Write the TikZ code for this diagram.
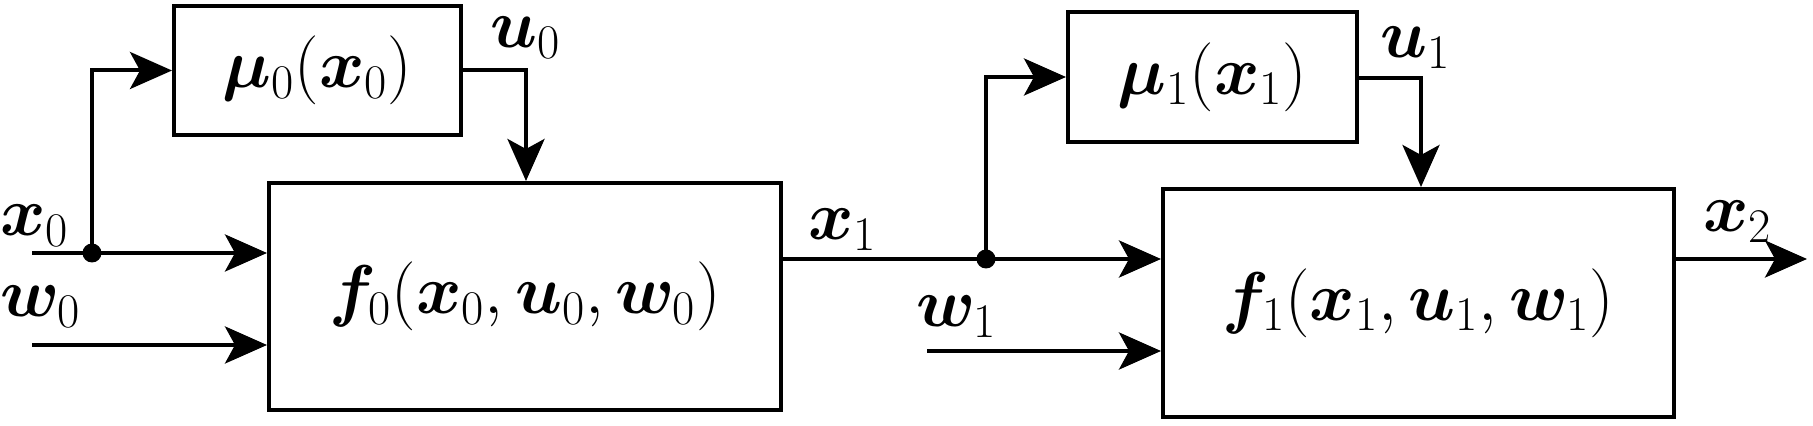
\documentclass[tikz,border=0pt]{standalone}
\usepackage{fix-cm}
\usepackage{amsmath,bm}
\usetikzlibrary{arrows.meta}
\begin{document}
\begin{tikzpicture}[x=0.5pt,y=-0.5pt,
  blk/.style={draw,line width=2pt,inner sep=0pt,font=\fontsize{34.5}{40}\selectfont},
  lbl/.style={inner sep=0pt,font=\fontsize{34.5}{40}\selectfont},
  wire/.style={line width=2pt},
  arr/.style={wire,-{Stealth[length=21pt,width=18.5pt,inset=5pt]}},
  junc/.style={circle,fill,inner sep=0pt,minimum size=9.5pt}]
\useasboundingbox (0,0) rectangle (1813,426);
% blocks
\node[blk,minimum width=143.5pt,minimum height=64.5pt] (mu0) at (317.5,70.5) {$\bm{\mu}_0(\bm{x}_0)$};
\node[blk,minimum width=256pt,minimum height=113.5pt] (f0) at (525,296.5) {$\bm{f}_0(\bm{x}_0,\bm{u}_0,\bm{w}_0)$};
\node[blk,minimum width=144.5pt,minimum height=65pt] (mu1) at (1212.5,77) {$\bm{\mu}_1(\bm{x}_1)$};
\node[blk,minimum width=255.5pt,minimum height=114pt] (f1) at (1418.5,303) {$\bm{f}_1(\bm{x}_1,\bm{u}_1,\bm{w}_1)$};
% coordinates
\coordinate (x0in) at (32,253);
\coordinate (w0in) at (32,345);
\coordinate (w1in) at (927,351);
\coordinate (x2out) at (1807,259);
\coordinate (u0c) at (526,70.5);
\coordinate (u1c) at (1421,78);
\node[junc] (d0) at (92,253) {};
\node[junc] (d1) at (986,259) {};
% labels
\node[lbl,anchor=base west] (lx0) at (0,236) {$\bm{x}_0$};
\node[lbl,anchor=base west] (lw0) at (0,317) {$\bm{w}_0$};
\node[lbl,anchor=base west] (lu0) at (490,48) {$\bm{u}_0$};
\node[lbl,anchor=base west] (lx1) at (808,240) {$\bm{x}_1$};
\node[lbl,anchor=base west] (lw1) at (916,327) {$\bm{w}_1$};
\node[lbl,anchor=base west] (lu1) at (1380,58) {$\bm{u}_1$};
\node[lbl,anchor=base west] (lx2) at (1703,232) {$\bm{x}_2$};
% stage 0
\draw[arr] (x0in) -- (f0.west |- x0in);
\draw[arr] (w0in) -- (f0.west |- w0in);
\draw[arr] (d0.center) -- (d0.center |- mu0.west) -- (mu0.west);
\draw[arr] (mu0.east) -- (u0c) -- (u0c |- f0.north);
% stage 1
\draw[wire] (f0.east |- d1) -- (d1.center);
\draw[arr] (d1.center) -- (f1.west |- d1);
\draw[arr] (w1in) -- (f1.west |- w1in);
\draw[arr] (d1.center) -- (d1.center |- mu1.west) -- (mu1.west);
\draw[arr] (mu1.east |- u1c) -- (u1c) -- (u1c |- f1.north);
\draw[arr] (f1.east |- x2out) -- (x2out);
\end{tikzpicture}
\end{document}
